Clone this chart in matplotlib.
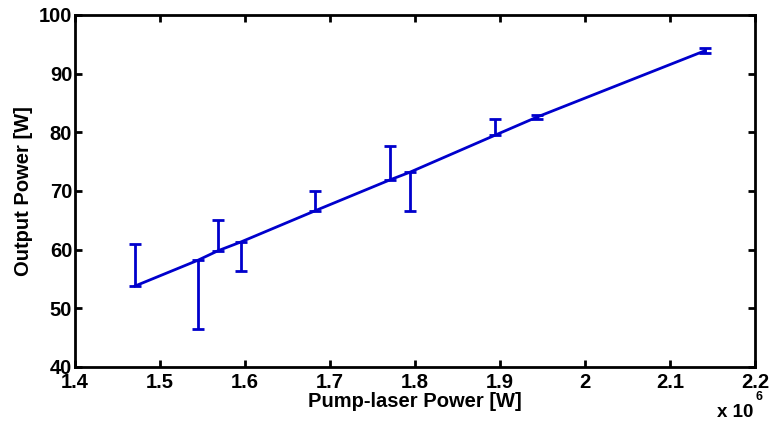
#!/usr/bin/env python3
import numpy as np
import matplotlib
matplotlib.use("Agg")
import matplotlib.pyplot as plt
from matplotlib.ticker import FuncFormatter

# data (pump power in W, output power in W)
pump_power = [1.4706e6, 1.5447e6, 1.568e6, 1.595e6, 1.682e6,
              1.7706e6, 1.794e6, 1.894e6, 1.9435e6, 2.141e6]
output_power = [53.8, 58.2, 59.8, 61.3, 66.6, 71.9, 73.2, 79.5, 82.6, 93.9]
err_lower = [0.0, 11.7, 0.0, 4.9, 0.0, 0.0, 6.7, 0.0, 0.3, 0.4]
err_upper = [7.1, 0.0, 5.2, 0.0, 3.4, 5.7, 0.0, 2.7, 0.3, 0.5]

plt.rcParams["font.family"] = ["Liberation Sans", "DejaVu Sans"]
plt.rcParams["font.weight"] = "bold"

fig = plt.figure(figsize=(7.73, 4.26), dpi=100)
ax = fig.add_axes([0.097, 0.1385, 0.88, 0.8265])

ax.errorbar(pump_power, output_power, yerr=[err_lower, err_upper],
            color="#0000CC", linewidth=2, elinewidth=2,
            capsize=4, capthick=2)

ax.set_xlim(1.4e6, 2.2e6)
ax.set_ylim(40, 100)
ax.set_xticks(np.arange(1.4e6, 2.21e6, 0.1e6))
ax.set_yticks(range(40, 101, 10))
ax.xaxis.set_major_formatter(FuncFormatter(lambda v, p: "%g" % round(v / 1e6, 2)))

ax.tick_params(direction="in", length=5, width=2, top=True, right=True,
               labelsize=14.5, pad=2)
ax.tick_params(axis="x", pad=4)
for lab in ax.get_xticklabels() + ax.get_yticklabels():
    lab.set_fontweight("bold")
for s in ax.spines.values():
    s.set_linewidth(2)

ax.set_xlabel("Pump-laser Power [W]", fontsize=14.5, fontweight="bold", labelpad=0)
ax.set_ylabel("Output Power [W]", fontsize=14.5, fontweight="bold", labelpad=4)

fig.text(0.927, 0.022, "x 10", fontsize=13.5, fontweight="bold")
fig.text(0.978, 0.062, "6", fontsize=9, fontweight="bold")

fig.savefig("out.png", dpi=100)
